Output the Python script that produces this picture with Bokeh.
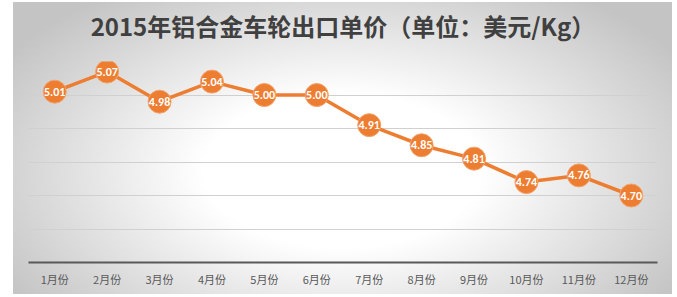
from bokeh.plotting import figure
from bokeh.models import ColumnDataSource, FactorRange, Range1d, FixedTicker, Title
from bokeh.embed import file_html
from bokeh.resources import INLINE

months = ["1月份", "2月份", "3月份", "4月份", "5月份", "6月份",
          "7月份", "8月份", "9月份", "10月份", "11月份", "12月份"]
prices = [5.01, 5.07, 4.98, 5.04, 5.00, 5.00, 4.91, 4.85, 4.81, 4.74, 4.76, 4.70]
labels = ["%.2f" % v for v in prices]
y_ticks = [4.5, 4.6, 4.7, 4.8, 4.9, 5.0]
title_text = "2015年铝合金车轮出口单价（单位：美元/Kg）"

FONT = "Noto Sans CJK SC"
ORANGE = "#ED7D31"

src = ColumnDataSource(dict(m=months, v=prices, t=labels))

p = figure(width=659, height=292, output_backend="svg", toolbar_location=None,
           x_range=FactorRange(factors=months, range_padding=0),
           y_range=Range1d(4.5, 5.1),
           min_border_left=15, min_border_right=15, min_border_top=59, min_border_bottom=32,
           margin=(2, 5, 3, 13),
           styles={"background": "radial-gradient(ellipse 60% 75% at 50% 58%, #ffffff 0%, #ffffff 35%, #c4c4c4 100%)"})
p.border_fill_color = None
p.background_fill_color = None
p.outline_line_color = None

# spacer between frame and title (nearest to frame), then the title itself
spacer = Title(text="\u00a0", text_font=FONT, text_font_size="10px", standoff=0)
p.add_layout(spacer, "above")
t = Title(text=title_text, align="center", text_font=FONT, text_font_size="24px",
          text_font_style="bold", text_color="#404040", standoff=4)
p.add_layout(t, "above")

p.yaxis.visible = False
p.xgrid.visible = False
p.ygrid.ticker = FixedTicker(ticks=y_ticks)
p.ygrid.grid_line_color = "#d0d0d0"
p.ygrid.grid_line_width = 1

ax = p.xaxis[0]
ax.axis_line_color = "#595959"
ax.axis_line_width = 2
ax.major_tick_line_color = None
ax.minor_tick_line_color = None
ax.major_label_text_font = FONT
ax.major_label_text_font_size = "11px"
ax.major_label_text_color = "#595959"
ax.major_label_standoff = 2

p.line("m", "v", source=src, line_color=ORANGE, line_width=3.5)
p.scatter("m", "v", source=src, size=23, fill_color=ORANGE, line_color="#f2a46e", line_width=1)
p.text("m", "v", text="t", source=src, text_align="center", text_baseline="middle",
       text_color="white", text_font_size="12px", text_font_style="bold",
       text_font={"value": "Calibri, Carlito, Liberation Sans, Arial"})

open("out.html", "w").write(file_html(p, INLINE))
